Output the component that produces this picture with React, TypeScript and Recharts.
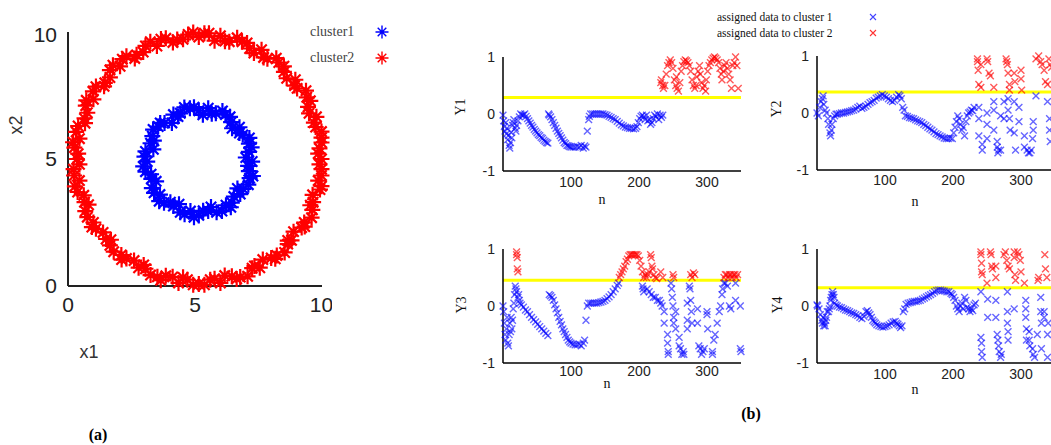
import React from 'react';
import { ScatterChart, Scatter, XAxis, YAxis, ReferenceLine } from 'recharts';

type P = [number, number];

// ---------- tick labels / texts ----------
const ringTicks = [0, 5, 10];
const nTicks = [100, 200, 300];
const yTicks = [-1, 0, 1];
const legendA = ['cluster1', 'cluster2'];
const legendB = ['assigned data to cluster 1', 'assigned data to cluster 2'];
const subLabels = ['Y1', 'Y2', 'Y3', 'Y4'];
const thresholds = [0.29, 0.37, 0.45, 0.32];

// ---------- panel (a): two rings ----------
const cluster1Ring: P[] = [
  [7.25, 4.9], [7.12, 5.28], [7.12, 5.6], [6.88, 5.95], [6.75, 6.25], [6.42, 6.45], [6.2, 6.75], [5.82, 6.8], [5.52, 7.0],
  [5.15, 6.9], [4.8, 7.0], [4.42, 6.8], [4.15, 6.75], [3.8, 6.42], [3.55, 6.28], [3.32, 5.9], [3.25, 5.62], [3.05, 5.3],
  [3.12, 4.9], [3.05, 4.5], [3.28, 4.22], [3.3, 3.85], [3.62, 3.6], [3.78, 3.28], [4.15, 3.15], [4.42, 2.9], [4.82, 2.95],
  [5.15, 2.78], [5.52, 2.95], [5.85, 2.9], [6.22, 3.18], [6.45, 3.28], [6.78, 3.62], [6.9, 3.82], [7.15, 4.25], [7.12, 4.52],
  [7.0, 5.06], [7.14, 5.83], [6.46, 6.21], [6.08, 6.89], [5.31, 6.74], [4.58, 7.03], [4.09, 6.42], [3.35, 6.16], [3.36, 5.38],
  [2.96, 4.71], [3.47, 4.12], [3.59, 3.34], [4.37, 3.22], [4.96, 2.71], [5.63, 3.11], [6.41, 3.1], [6.67, 3.84], [7.28, 4.33],
  [7.23, 5.46], [6.75, 6.02], [6.38, 6.66], [5.66, 6.78], [4.96, 7.04], [4.33, 6.67], [3.63, 6.42], [3.38, 5.72], [3.01, 5.09],
  [3.27, 4.4], [3.39, 3.67], [4.03, 3.3], [4.59, 2.82], [5.32, 2.96], [6.06, 2.95], [6.53, 3.52], [7.1, 3.99], [7.09, 4.73],
];
const cluster2Ring: P[] = [
  [9.98, 5.0], [9.9, 5.42], [9.98, 5.84], [9.75, 6.26], [9.78, 6.66], [9.45, 7.05], [9.4, 7.43], [9.02, 7.78], [8.95, 8.12],
  [8.5, 8.43], [8.3, 8.8], [7.85, 8.95], [7.62, 9.3], [7.15, 9.35], [6.85, 9.62], [6.35, 9.62], [6.0, 9.85], [5.55, 9.95],
  [5.15, 9.8], [4.73, 9.9], [4.3, 9.7], [3.85, 9.75], [3.5, 9.45], [3.05, 9.45], [2.7, 9.1], [2.3, 9.05], [2.05, 8.65],
  [1.65, 8.5], [1.45, 8.0], [1.1, 7.85], [1.0, 7.35], [0.7, 7.1], [0.65, 6.6], [0.4, 6.3], [0.45, 5.8], [0.25, 5.45],
  [0.35, 5.0], [0.22, 4.6], [0.45, 4.15], [0.38, 3.7], [0.65, 3.3], [0.68, 2.95], [1.0, 2.5], [1.1, 2.25], [1.5, 1.85],
  [1.65, 1.6], [2.1, 1.22], [2.3, 1.08], [2.78, 0.72], [3.05, 0.68], [3.52, 0.36], [3.85, 0.4], [4.35, 0.12], [4.7, 0.25],
  [5.15, 0.08], [5.6, 0.25], [6.0, 0.12], [6.45, 0.38], [6.78, 0.35], [7.25, 0.7], [7.55, 0.72], [8.0, 1.1], [8.22, 1.2],
  [8.65, 1.65], [8.8, 1.8], [9.2, 2.3], [9.3, 2.5], [9.62, 3.0], [9.65, 3.3], [9.92, 3.8], [9.85, 4.15], [9.98, 4.6],
  [9.85, 5.21], [9.98, 6.08], [9.49, 6.8], [9.37, 7.69], [8.61, 8.18], [8.2, 8.97], [7.32, 9.17], [6.66, 9.77], [5.77, 9.66],
  [4.93, 9.98], [4.13, 9.59], [3.24, 9.62], [2.63, 8.96], [1.77, 8.69], [1.42, 7.86], [0.72, 7.31], [0.67, 6.41], [0.2, 5.66],
  [0.45, 4.79], [0.27, 3.92], [0.81, 3.2], [0.94, 2.32], [1.69, 1.82], [2.11, 1.04], [2.98, 0.83], [3.65, 0.23], [4.53, 0.34],
  [5.37, 0.05], [6.17, 0.41], [7.07, 0.38], [7.67, 1.04], [8.53, 1.32], [8.88, 2.14], [9.59, 2.69], [9.63, 3.59], [9.98, 4.35],
  [9.98, 5.65], [9.68, 6.43], [9.54, 7.29], [8.92, 7.89], [8.5, 8.65], [7.7, 9.0], [7.05, 9.57], [6.18, 9.64], [5.37, 9.95],
  [4.53, 9.71], [3.66, 9.72], [2.96, 9.21], [2.14, 8.93], [1.65, 8.21], [0.98, 7.66], [0.76, 6.82], [0.32, 6.07], [0.4, 5.21],
  [0.24, 4.35], [0.62, 3.57], [0.76, 2.71], [1.38, 2.11], [1.8, 1.35], [2.6, 1.0], [3.25, 0.43], [4.12, 0.36], [4.93, 0.05],
  [5.77, 0.29], [6.64, 0.28], [7.34, 0.79], [8.16, 1.07], [8.65, 1.79], [9.32, 2.34], [9.54, 3.18], [9.98, 3.93], [9.9, 4.79],
];

// ---------- panel (b): Y1 ----------
const y1Cluster1: P[] = [
  [0, -0.02], [1, -0.12], [2, -0.22], [3, -0.3], [4, -0.15], [5, -0.35], [6, -0.25], [7, -0.45], [8, -0.38], [9, -0.55],
  [10, -0.6], [11, -0.5], [12, -0.32], [13, -0.42], [14, -0.2], [15, -0.15], [16, -0.1], [18, -0.25], [19, -0.3], [20, -0.2],
  [22, -0.12], [24, -0.05], [26, 0.0], [28, -0.02], [30, -0.02], [32, 0.0], [34, -0.04], [36, -0.08], [38, -0.12], [40, -0.16],
  [42, -0.2], [44, -0.23], [46, -0.27], [48, -0.3], [50, -0.33], [52, -0.36], [54, -0.38], [56, -0.41], [58, -0.43], [60, -0.46],
  [62, -0.48], [64, -0.5], [66, -0.51], [67, 0.0], [68, -0.02], [70, -0.05], [72, -0.1], [74, -0.15], [76, -0.2], [78, -0.25],
  [80, -0.3], [82, -0.34], [84, -0.38], [86, -0.42], [88, -0.46], [90, -0.5], [92, -0.52], [94, -0.55], [96, -0.56], [98, -0.57],
  [100, -0.58], [103, -0.58], [106, -0.58], [109, -0.57], [112, -0.58], [115, -0.55], [118, -0.6], [120, -0.56], [122, -0.58],
  [124, -0.3], [126, -0.1], [127, -0.04], [129, 0.0], [132, 0.0], [135, 0.0], [138, 0.0], [141, 0.0], [144, 0.0], [147, 0.0],
  [150, -0.01], [153, -0.02], [156, -0.04], [159, -0.06], [162, -0.08], [165, -0.1], [168, -0.13], [171, -0.16], [174, -0.19],
  [177, -0.21], [180, -0.23], [183, -0.24], [186, -0.25], [189, -0.25], [192, -0.26], [195, -0.25], [197, -0.22], [199, -0.15],
  [201, -0.08], [203, -0.04], [205, -0.02], [207, -0.05], [209, -0.1], [211, -0.02], [213, -0.12], [215, -0.1], [217, -0.18],
  [219, -0.15], [221, -0.08], [223, -0.02], [225, -0.05], [227, 0.0], [229, -0.1], [231, -0.02], [233, -0.06], [235, -0.02],
];
const y1Cluster2: P[] = [
  [232, 0.55], [233, 0.6], [235, 0.5], [236, 0.45], [238, 0.5], [240, 0.7], [242, 0.85], [244, 0.9], [246, 0.95], [248, 0.9],
  [250, 0.8], [252, 0.6], [254, 0.5], [255, 0.65], [256, 0.45], [258, 0.4], [260, 0.55], [262, 0.75], [264, 0.85], [266, 0.92],
  [268, 0.95], [270, 0.93], [272, 0.9], [274, 0.85], [276, 0.75], [278, 0.6], [280, 0.5], [282, 0.45], [284, 0.5], [285, 0.65],
  [287, 0.75], [289, 0.85], [290, 0.7], [292, 0.55], [294, 0.45], [296, 0.5], [298, 0.4], [299, 0.6], [301, 0.75], [303, 0.85],
  [305, 0.9], [307, 0.95], [309, 0.98], [311, 1.0], [313, 0.98], [315, 0.95], [317, 0.9], [319, 0.8], [321, 0.7], [322, 0.6],
  [324, 0.75], [326, 0.85], [328, 0.9], [330, 0.8], [332, 0.7], [334, 0.6], [336, 0.45], [338, 0.85], [340, 0.9], [342, 1.0],
  [344, 0.85], [346, 0.45],
];

// ---------- Y2 ----------
const y2Cluster1: P[] = [
  [0, 0.0], [2, -0.05], [4, 0.1], [6, 0.2], [8, 0.25], [9, 0.3], [10, 0.15], [12, 0.05], [14, 0.0], [16, -0.1], [17, -0.2],
  [19, -0.35], [20, -0.4], [21, -0.3], [22, -0.2], [24, -0.1], [26, -0.05], [28, -0.02], [30, -0.02], [33, -0.01], [36, 0.0],
  [39, 0.0], [42, 0.01], [45, 0.02], [48, 0.03], [51, 0.04], [54, 0.05], [57, 0.07], [60, 0.1], [63, 0.12], [66, 0.08],
  [69, 0.1], [72, 0.12], [75, 0.15], [78, 0.18], [81, 0.2], [84, 0.22], [87, 0.26], [90, 0.28], [93, 0.3], [96, 0.32],
  [99, 0.3], [102, 0.28], [105, 0.25], [108, 0.22], [111, 0.2], [114, 0.22], [117, 0.28], [120, 0.32], [122, 0.3], [124, 0.25],
  [126, 0.1], [128, 0.05], [130, -0.05], [133, -0.06], [136, -0.08], [139, -0.09], [142, -0.1], [145, -0.12], [148, -0.14],
  [151, -0.15], [154, -0.17], [157, -0.2], [160, -0.22], [163, -0.25], [166, -0.28], [169, -0.3], [172, -0.33], [175, -0.36],
  [178, -0.38], [181, -0.4], [184, -0.42], [187, -0.44], [190, -0.45], [193, -0.45], [196, -0.44], [199, -0.45], [201, -0.35],
  [203, -0.25], [205, -0.15], [207, -0.05], [209, -0.1], [211, -0.2], [213, -0.3], [215, -0.25], [217, -0.4], [219, -0.15],
  [221, -0.05], [223, 0.0], [225, 0.02], [227, 0.05], [229, 0.04], [231, 0.1],
  [238, 0.1], [238, -0.1], [238, -0.4], [243, -0.55], [243, -0.65], [250, 0.0], [250, -0.2], [250, -0.45], [260, 0.2],
  [260, 0.05], [260, -0.3], [265, -0.5], [265, -0.6], [266, -0.7], [267, -0.65], [270, -0.05], [270, -0.65], [275, 0.2],
  [275, -0.1], [281, 0.25], [281, 0.05], [283, -0.1], [284, -0.3], [290, 0.2], [290, -0.35], [292, -0.65], [297, 0.1],
  [297, -0.15], [305, -0.4], [305, -0.6], [309, -0.65], [311, -0.7], [313, -0.7], [315, -0.65], [317, -0.45], [318, -0.3],
  [318, -0.15], [322, 0.3], [339, 0.2], [342, -0.1], [342, -0.3], [343, -0.5],
];
const y2Cluster2: P[] = [
  [236, 0.95], [236, 0.9], [237, 0.75], [238, 0.5], [241, 0.45], [241, 0.85], [250, 0.95], [251, 0.9], [253, 0.7], [255, 0.65],
  [260, 0.45], [278, 0.95], [279, 0.9], [280, 0.85], [281, 0.7], [283, 0.5], [283, 0.4], [290, 0.7], [291, 0.55], [300, 0.75],
  [300, 0.6], [301, 0.4], [322, 0.95], [326, 1.0], [329, 0.9], [331, 0.85], [334, 0.75], [336, 0.55], [339, 0.5], [341, 0.95],
  [343, 0.85], [345, 0.8],
];

// ---------- Y3 ----------
const y3Cluster1: P[] = [
  [0, 0.0], [1, -0.1], [2, -0.3], [3, -0.5], [4, -0.6], [5, -0.4], [6, -0.2], [7, -0.65], [8, -0.7], [9, -0.5], [10, -0.3],
  [11, -0.45], [12, -0.2], [13, -0.4], [14, -0.25], [15, -0.05], [16, 0.05], [17, 0.2], [18, 0.35], [19, 0.3], [20, 0.25],
  [22, 0.15], [23, 0.2], [24, 0.1], [25, 0.05], [27, 0.02], [30, -0.02], [33, -0.07], [36, -0.1], [39, -0.15], [42, -0.2],
  [45, -0.24], [48, -0.28], [51, -0.32], [54, -0.36], [57, -0.4], [60, -0.44], [63, -0.48], [66, -0.52], [68, 0.2], [70, 0.18],
  [72, 0.15], [74, 0.1], [76, 0.02], [78, -0.05], [80, -0.12], [82, -0.2], [84, -0.27], [86, -0.33], [88, -0.4], [90, -0.45],
  [92, -0.5], [94, -0.55], [96, -0.6], [98, -0.63], [100, -0.65], [103, -0.67], [106, -0.68], [109, -0.68], [112, -0.67],
  [115, -0.7], [118, -0.65], [120, -0.6], [122, -0.25], [124, 0.0], [126, 0.05], [129, 0.05], [132, 0.05], [135, 0.05],
  [138, 0.05], [141, 0.06], [144, 0.07], [147, 0.08], [150, 0.1], [153, 0.13], [156, 0.16], [159, 0.2], [162, 0.25], [165, 0.3],
  [168, 0.36], [170, 0.4], [205, 0.35], [206, 0.3], [207, 0.25], [212, 0.3], [215, 0.25], [218, 0.2], [221, 0.15], [224, 0.15],
  [227, 0.1], [230, 0.1], [232, 0.05], [234, 0.0],
  [237, -0.1], [237, -0.3], [242, -0.5], [242, -0.65], [243, -0.8], [243, -0.85], [247, 0.4], [248, 0.3], [249, 0.15],
  [250, 0.0], [251, -0.2], [251, -0.3], [254, -0.1], [254, -0.4], [259, -0.55], [259, -0.7], [261, -0.75], [263, -0.85],
  [265, -0.8], [266, -0.85], [271, -0.25], [271, -0.4], [271, 0.05], [274, 0.35], [275, 0.3], [276, 0.1], [277, -0.1],
  [278, -0.3], [286, -0.05], [286, -0.3], [288, -0.7], [290, -0.75], [292, -0.85], [294, -0.8], [296, -0.75], [300, -0.1],
  [300, -0.15], [301, -0.4], [308, -0.8], [308, -0.85], [310, -0.6], [312, -0.5], [315, -0.3], [318, -0.1], [320, 0.0],
  [322, 0.2], [323, 0.3], [325, 0.4], [327, 0.4], [330, 0.35], [333, 0.0], [335, -0.05], [342, 0.4], [342, 0.1], [349, 0.0],
  [349, -0.75], [350, -0.8],
];
const y3Cluster2: P[] = [
  [20, 0.95], [20, 0.9], [21, 0.85], [21, 0.65], [22, 0.6], [171, 0.5], [173, 0.55], [175, 0.6], [177, 0.65], [179, 0.7],
  [181, 0.78], [183, 0.82], [185, 0.88], [187, 0.9], [189, 0.9], [191, 0.9], [193, 0.9], [195, 0.9], [197, 0.9], [199, 0.88],
  [201, 0.8], [203, 0.7], [205, 0.6], [207, 0.5], [209, 0.55], [211, 0.5], [213, 0.55], [215, 0.6], [217, 0.9], [218, 0.85],
  [219, 0.7], [220, 0.65], [222, 0.55], [224, 0.5], [226, 0.48], [232, 0.6], [235, 0.5], [250, 0.55], [251, 0.5], [276, 0.55],
  [278, 0.5], [280, 0.58], [282, 0.55], [325, 0.5], [327, 0.55], [329, 0.55], [331, 0.5], [333, 0.55], [335, 0.55],
  [337, 0.5], [339, 0.55], [341, 0.55], [343, 0.5], [345, 0.55],
];

// ---------- Y4 ----------
const y4Cluster1: P[] = [
  [0, 0.02], [1, 0.0], [3, -0.05], [5, -0.15], [7, -0.25], [8, -0.3], [9, -0.2], [10, -0.35], [11, -0.3], [12, -0.35],
  [13, -0.25], [14, -0.2], [15, -0.1], [17, -0.1], [18, -0.05], [19, 0.0], [20, 0.1], [21, 0.15], [22, 0.2], [23, 0.25],
  [24, 0.2], [25, 0.15], [26, 0.05], [28, 0.02], [30, 0.0], [33, -0.02], [36, -0.03], [39, -0.05], [42, -0.07], [45, -0.08],
  [48, -0.1], [51, -0.12], [54, -0.13], [57, -0.15], [60, -0.17], [63, -0.2], [66, -0.22], [69, -0.18], [72, -0.1],
  [74, -0.08], [76, -0.12], [78, -0.15], [80, -0.2], [82, -0.25], [84, -0.28], [86, -0.3], [88, -0.33], [91, -0.35],
  [94, -0.36], [97, -0.37], [100, -0.36], [103, -0.35], [106, -0.33], [109, -0.3], [112, -0.28], [115, -0.27], [117, -0.3],
  [119, -0.32], [121, -0.35], [123, -0.38], [125, -0.35], [127, -0.1], [129, -0.05], [131, 0.03], [134, 0.05], [137, 0.06],
  [140, 0.07], [143, 0.08], [146, 0.08], [149, 0.09], [152, 0.1], [155, 0.12], [158, 0.14], [161, 0.16], [164, 0.18],
  [167, 0.2], [170, 0.22], [173, 0.25], [176, 0.27], [179, 0.28], [182, 0.28], [185, 0.27], [188, 0.26], [191, 0.25],
  [194, 0.25], [197, 0.22], [199, 0.2], [201, 0.15], [203, 0.1], [205, 0.0], [207, -0.05], [209, -0.1], [211, 0.0], [213, 0.05],
  [215, -0.05], [217, 0.15], [219, 0.1], [221, -0.02], [223, -0.05], [225, -0.1], [227, -0.05], [229, -0.08], [231, 0.02],
  [233, 0.05],
  [241, 0.25], [241, -0.55], [242, -0.65], [242, -0.8], [243, -0.9], [251, 0.12], [251, -0.2], [263, 0.1], [263, -0.2],
  [265, -0.5], [266, -0.6], [267, -0.7], [268, -0.8], [270, -0.9], [271, -0.85], [280, -0.1], [280, -0.3], [281, -0.45],
  [281, -0.6], [280, 0.25], [290, -0.05], [307, 0.1], [307, -0.05], [307, -0.2], [308, -0.4], [308, -0.6], [312, -0.45],
  [312, -0.6], [313, -0.7], [317, -0.75], [318, -0.85], [320, -0.9], [324, -0.5], [329, 0.15], [329, -0.1], [330, -0.3],
  [330, -0.75], [334, -0.1], [334, -0.2], [339, -0.9], [339, -0.5], [340, -0.3],
];
const y4Cluster2: P[] = [
  [241, 0.95], [241, 0.9], [242, 0.75], [242, 0.6], [243, 0.55], [250, 0.4], [255, 0.95], [256, 0.9], [257, 0.7], [258, 0.65],
  [263, 0.5], [263, 0.7], [275, 0.9], [277, 0.95], [279, 0.8], [281, 0.7], [283, 0.65], [290, 0.95], [290, 0.85], [291, 0.55],
  [292, 0.45], [295, 0.95], [297, 0.9], [299, 0.8], [300, 0.6], [305, 0.4], [325, 0.45], [326, 0.5], [335, 0.9], [336, 0.65],
  [338, 0.5],
];

// ---------- helpers ----------
const toXY = (arr: P[]) => arr.map(([x, y]) => ({ x, y }));
const toNY = (arr: P[]) => arr.map(([n, y]) => ({ n, y }));

const starShape = (color: string) => (props: any) => {
  const { cx, cy } = props;
  if (cx == null || cy == null) return <g />;
  const r = 8;
  const d = 5.2;
  return (
    <path
      d={`M${cx - r},${cy}H${cx + r}M${cx},${cy - r}V${cy + r}M${cx - d},${cy - d}L${cx + d},${cy + d}M${cx - d},${cy + d}L${cx + d},${cy - d}`}
      stroke={color}
      strokeWidth={2.2}
      fill="none"
    />
  );
};

const crossShape = (color: string, op: number) => (props: any) => {
  const { cx, cy } = props;
  if (cx == null || cy == null) return <g />;
  const s = 3.4;
  return (
    <path
      d={`M${cx - s},${cy - s}L${cx + s},${cy + s}M${cx - s},${cy + s}L${cx + s},${cy - s}`}
      stroke={color}
      strokeOpacity={op}
      strokeWidth={1.4}
      fill="none"
    />
  );
};

const sansTick = (size: number) => ({ fontSize: size, fill: '#222', fontFamily: '"Liberation Sans", Arial, sans-serif' });

const blueStar = starShape('#0000ff');
const redStar = starShape('#ff0000');
const blueCross = crossShape('#0000ff', 0.6);
const redCross = crossShape('#ff0000', 0.65);

type SubProps = {
  left: number; top: number; blue: P[]; red: P[]; thr: number; tickGap: number;
};

function SubPlot({ left, top, blue, red, thr, tickGap }: SubProps) {
  const W = 238;
  const H = 114;
  return (
    <div style={{ position: 'absolute', left: left - 40, top: top - 10 }}>
      <ScatterChart width={W + 50} height={H + 50} margin={{ top: 10, right: 10, bottom: 0, left: 0 }}>
        <XAxis
          type="number"
          dataKey="n"
          domain={[0, 350]}
          ticks={nTicks}
          height={40}
          tickSize={0}
          tickMargin={tickGap}
          tickLine={false}
          axisLine={{ stroke: '#000', strokeWidth: 1.5 }}
          tick={sansTick(14)}
        />
        <YAxis
          type="number"
          dataKey="y"
          domain={[-1, 1]}
          ticks={yTicks}
          width={40}
          tickSize={0}
          tickMargin={8}
          tickLine={false}
          axisLine={{ stroke: '#000', strokeWidth: 1.5 }}
          tick={sansTick(14)}
        />
        <Scatter data={toNY(blue)} shape={blueCross} isAnimationActive={false} />
        <Scatter data={toNY(red)} shape={redCross} isAnimationActive={false} />
        <ReferenceLine y={thr} stroke="#ffff00" strokeWidth={3} />
      </ScatterChart>
    </div>
  );
}

const serif = '"Liberation Serif", "Times New Roman", serif';
const sans = '"Liberation Sans", Arial, sans-serif';

function Txt({ x, y, text, size, font, rotate, bold, color }: any) {
  return (
    <div
      style={{
        position: 'absolute',
        left: x,
        top: y,
        transform: `translate(-50%, -50%)${rotate ? ' rotate(-90deg)' : ''}`,
        fontSize: size,
        fontFamily: font,
        fontWeight: bold ? 'bold' : 'normal',
        color: color || '#111',
        whiteSpace: 'nowrap',
        lineHeight: 1,
      }}
    >
      {text}
    </div>
  );
}

export default function App() {
  return (
    <div style={{ position: 'absolute', left: 0, top: 0, width: 1051, height: 445, overflow: 'hidden', background: '#fff' }}>
      {/* panel (a) */}
      <div style={{ position: 'absolute', left: 8, top: 22 }}>
        <ScatterChart width={324} height={304} margin={{ top: 10, right: 10, bottom: 0, left: 0 }} style={{ overflow: 'visible' }}>
          <XAxis
            type="number"
            dataKey="x"
            domain={[0, 10]}
            ticks={ringTicks}
            height={40}
            tickSize={0}
            tickMargin={11}
            tickLine={false}
            axisLine={{ stroke: '#222', strokeWidth: 2 }}
            tick={sansTick(21)}
          />
          <YAxis
            type="number"
            dataKey="y"
            domain={[0, 10]}
            ticks={ringTicks}
            width={60}
            tickSize={0}
            tickMargin={11}
            tickLine={false}
            axisLine={{ stroke: '#222', strokeWidth: 2 }}
            tick={sansTick(21)}
          />
          <Scatter data={toXY(cluster2Ring)} shape={redStar} isAnimationActive={false} />
          <Scatter data={toXY(cluster1Ring)} shape={blueStar} isAnimationActive={false} />
        </ScatterChart>
      </div>

      {/* legend (a) */}
      {legendA.map((t, i) => (
        <div key={t} style={{ position: 'absolute', left: 310, top: 22 + i * 26, height: 20, display: 'flex', alignItems: 'center' }}>
          <span style={{ fontFamily: serif, fontSize: 14, color: '#444', width: 64 }}>{t}</span>
          <svg width={16} height={16}>
            <path d="M1.5,8H14.5M8,1.5V14.5M3.7,3.7L12.3,12.3M3.7,12.3L12.3,3.7" stroke={i === 0 ? '#0000ff' : '#ff0000'} strokeWidth={1.4} fill="none" />
          </svg>
        </div>
      ))}

      <Txt x={16} y={125} text="x2" size={18} font={sans} rotate color="#333" />
      <Txt x={89} y={352} text="x1" size={18} font={sans} color="#333" />
      <Txt x={98} y={435} text="(a)" size={16} font={serif} bold color="#000" />

      {/* panel (b) */}
      <SubPlot left={502.5} top={57} blue={y1Cluster1} red={y1Cluster2} thr={thresholds[0]} tickGap={6} />
      <SubPlot left={816.5} top={56} blue={y2Cluster1} red={y2Cluster2} thr={thresholds[1]} tickGap={5} />
      <SubPlot left={502.5} top={248.5} blue={y3Cluster1} red={y3Cluster2} thr={thresholds[2]} tickGap={3} />
      <SubPlot left={816.5} top={248.5} blue={y4Cluster1} red={y4Cluster2} thr={thresholds[3]} tickGap={6} />

      <Txt x={461} y={107} text={subLabels[0]} size={14} font={serif} rotate />
      <Txt x={777} y={109} text={subLabels[1]} size={14} font={serif} rotate />
      <Txt x={462} y={305} text={subLabels[2]} size={14} font={serif} rotate />
      <Txt x={778} y={305} text={subLabels[3]} size={14} font={serif} rotate />
      <Txt x={602} y={200} text="n" size={14} font={serif} />
      <Txt x={915} y={202} text="n" size={14} font={serif} />
      <Txt x={607} y={384} text="n" size={14} font={serif} />
      <Txt x={915} y={390} text="n" size={14} font={serif} />

      {/* legend (b) */}
      {legendB.map((t, i) => (
        <div key={t} style={{ position: 'absolute', left: 717, top: 9 + i * 16, height: 16, display: 'flex', alignItems: 'center' }}>
          <span style={{ fontFamily: serif, fontSize: 11.5, color: '#111', width: 150 }}>{t}</span>
          <svg width={12} height={12}>
            <path d="M3,3L9,9M3,9L9,3" stroke={i === 0 ? '#4444ff' : '#ff3333'} strokeWidth={1.1} fill="none" />
          </svg>
        </div>
      ))}

      <Txt x={751} y={414} text="(b)" size={16} font={serif} bold color="#000" />
    </div>
  );
}
